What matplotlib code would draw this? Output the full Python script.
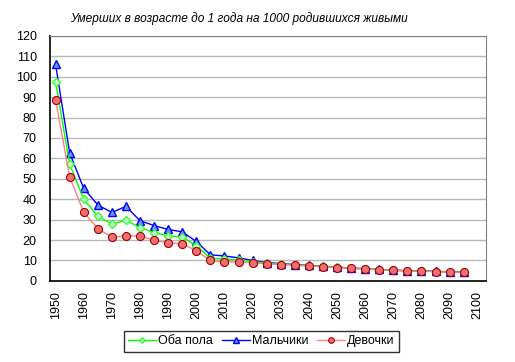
import numpy as np
from matplotlib import pyplot as plt

plt.rcParams['font.family'] = ['Liberation Sans', 'DejaVu Sans']

# годы (каждые 5 лет)
years = list(range(1950, 2100, 5))

# оба пола
both = [97.4, 57.2, 40.0, 31.7, 27.8, 29.7, 26.1, 23.7, 22.1, 21.4,
        17.3, 11.0, 10.7, 10.2, 9.5, 8.7, 8.3, 7.8, 7.5, 7.1,
        6.7, 6.2, 5.9, 5.5, 5.2, 4.9, 4.8, 4.6, 4.4, 4.25]
# мальчики
boys = [106.0, 62.7, 45.3, 37.2, 33.5, 36.5, 29.5, 27.1, 25.2, 24.0,
        19.3, 12.8, 12.2, 11.3, 10.0, 9.0, 8.5, 8.0, 7.6, 7.2,
        6.8, 6.3, 6.0, 5.6, 5.3, 5.0, 4.9, 4.7, 4.5, 4.3]
# девочки
girls = [88.6, 51.0, 33.6, 25.6, 21.4, 22.0, 22.0, 19.9, 18.7, 18.2,
         14.7, 10.0, 9.5, 9.2, 8.9, 8.4, 8.0, 7.6, 7.3, 6.9,
         6.5, 6.1, 5.8, 5.4, 5.1, 4.8, 4.7, 4.5, 4.3, 4.2]

xticks = list(range(1950, 2101, 10))
yticks = list(range(0, 121, 10))

fig = plt.figure(figsize=(5.15, 3.62), dpi=100)
ax = fig.add_axes([0.097, 0.224, 0.847, 0.677])

ax.plot(years, both, color='#00ff00', lw=1, marker='D', ms=4,
        mfc='#ccffcc', mec='#33ff33', mew=1, label='Оба пола', zorder=3)
ax.plot(years, boys, color='#0000ff', lw=1, marker='^', ms=6,
        mfc='#6699ff', mec='#0000ff', mew=1, label='Мальчики', zorder=2)
ax.plot(years, girls, color='#ff8080', lw=1, marker='o', ms=5.8,
        mfc='#f07070', mec='#a00000', mew=0.8, label='Девочки', zorder=4)

ax.set_xlim(1948, 2103)
ax.set_ylim(0, 120)
ax.set_xticks(xticks)
ax.set_xticklabels([str(t) for t in xticks], rotation=90)
ax.set_yticks(yticks)
ax.tick_params(axis='both', labelsize=9, length=0)
ax.tick_params(axis='x', pad=7)
ax.tick_params(axis='y', pad=9.5)
ax.yaxis.grid(True, color='#b8b8b8', lw=1)
ax.set_axisbelow(True)

for s in ['top', 'right']:
    ax.spines[s].set_color('#808080')
ax.spines['left'].set_color('black')
ax.spines['bottom'].set_color('black')
ax.spines['left'].set_linewidth(1.2)
ax.spines['bottom'].set_linewidth(1.2)

fig.text(0.464, 0.948, 'Умерших в возрасте до 1 года на 1000 родившихся живыми',
         ha='center', va='center', fontsize=8.6, style='italic')

leg = fig.legend(loc='center', bbox_to_anchor=(0.508, 0.057), ncol=3,
                 fontsize=9, frameon=True, fancybox=False, edgecolor='black',
                 handlelength=2.2, handletextpad=0.2, columnspacing=0.7,
                 borderpad=0.35, markerscale=0.7)
leg.get_frame().set_linewidth(1)

plt.savefig('out.png', dpi=100)
